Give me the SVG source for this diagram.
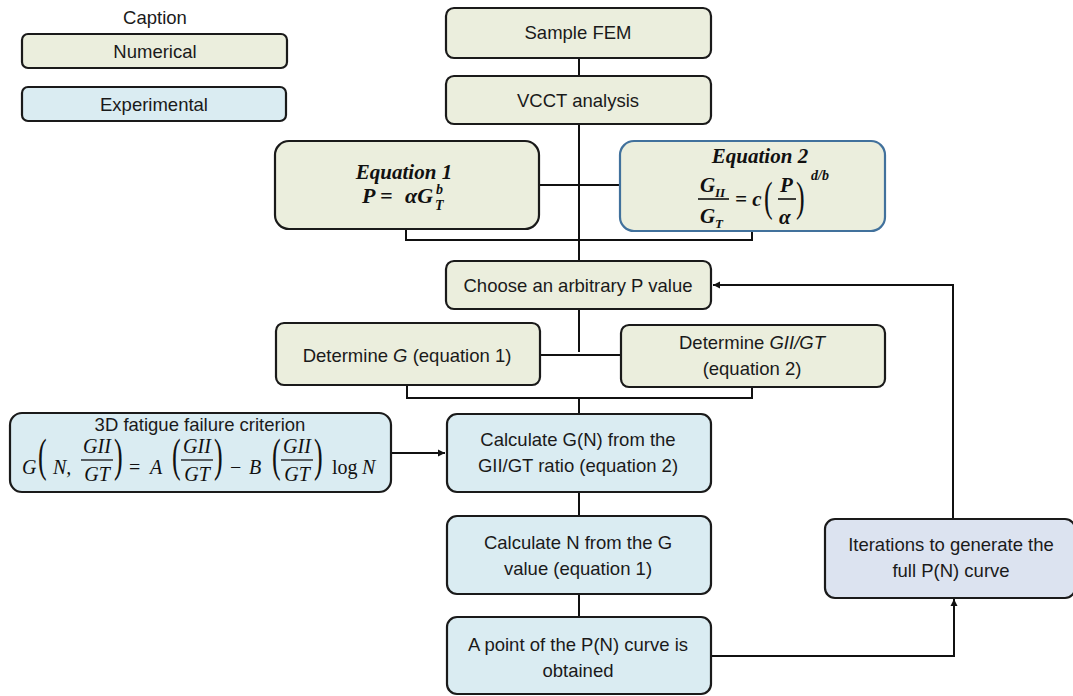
<svg xmlns="http://www.w3.org/2000/svg" width="1073" height="696" viewBox="0 0 1073 696">
<defs>
<style>
.box{stroke:#1a1a1a;stroke-width:2.2}
.num{fill:#EBEEDD}
.exp{fill:#DAECF2}
.itr{fill:#DCE3F0}
.t{font-family:"Liberation Sans",Arial,sans-serif;font-size:18.5px;fill:#1a1a1a;text-anchor:middle}
.m{font-family:"Liberation Serif","Times New Roman",serif;font-style:italic;fill:#111}
.mb{font-family:"Liberation Serif","Times New Roman",serif;font-style:italic;font-weight:bold;fill:#111}
.p{font-family:"Liberation Serif","Times New Roman",serif;font-style:normal;font-weight:normal;font-size:26px;fill:#111}
.c{fill:none;stroke:#111;stroke-width:2}
</style>
<marker id="ah" markerWidth="8" markerHeight="8" refX="7" refY="4" orient="auto" markerUnits="userSpaceOnUse">
<path d="M0,0.5 L7,4 L0,7.5 Z" fill="#111"/>
</marker>
</defs>
<rect width="1073" height="696" fill="#fff"/>

<g id="connectors">
<path class="c" d="M579,58 V76 M579,124 V240 M539,185 H620"/>
<path class="c" d="M406,229 V240 H752 V231 M579,240 V261"/>
<path class="c" d="M579,309 V352 M540,355 H621"/>
<path class="c" d="M407,385 V398 H752 V387 M579,398 V414"/>
<path class="c" d="M391,453 H445" marker-end="url(#ah)"/>
<path class="c" d="M579,492 V516 M579,594 V617"/>
<path class="c" d="M711,656 H954 V599" marker-end="url(#ah)"/>
<path class="c" d="M953,519 V285 H713" marker-end="url(#ah)"/>
</g>

<g id="caption">
<text class="t" x="155" y="24">Caption</text>
</g>
<g id="legend-numerical">
<rect class="box num" x="22" y="34" width="265" height="34" rx="6"/>
<text class="t" x="155" y="58">Numerical</text>
</g>
<g id="legend-experimental">
<rect class="box exp" x="22" y="87" width="264" height="34" rx="6"/>
<text class="t" x="154" y="111">Experimental</text>
</g>

<g id="sample-fem">
<rect class="box num" x="446" y="8" width="265" height="50" rx="8"/>
<text class="t" x="578" y="39">Sample FEM</text>
</g>
<g id="vcct">
<rect class="box num" x="446" y="76" width="265" height="48" rx="8"/>
<text class="t" x="578" y="107">VCCT analysis</text>
</g>

<g id="equation1">
<rect class="box num" x="275" y="141" width="264" height="88" rx="14"/>
<text class="mb" x="404" y="179" font-size="21" text-anchor="middle">Equation 1</text>
<text class="mb" font-size="22" y="203"><tspan x="362">P</tspan><tspan x="380">=</tspan><tspan x="405">αG</tspan></text>
<text class="mb" x="436" y="194" font-size="14">b</text>
<text class="mb" x="435" y="210" font-size="14">T</text>
</g>

<g id="equation2">
<rect x="620" y="141" width="265" height="90" rx="14" fill="#EBEEDD" stroke="#41719C" stroke-width="2.2"/>
<text class="mb" x="760" y="163" font-size="21" text-anchor="middle">Equation 2</text>
<text class="mb" x="700" y="192" font-size="21">G</text>
<text class="mb" x="715" y="197" font-size="13">II</text>
<line x1="698" y1="199" x2="729" y2="199" stroke="#111" stroke-width="1.6"/>
<text class="mb" x="700" y="223" font-size="21">G</text>
<text class="mb" x="715" y="228" font-size="13">T</text>
<text class="mb" x="735" y="206" font-size="21">= c</text>
<text class="p" transform="translate(764,211) scale(1,1.6)" font-weight="bold">(</text>
<text class="mb" x="780" y="192" font-size="21">P</text>
<line x1="778" y1="199" x2="796" y2="199" stroke="#111" stroke-width="1.6"/>
<text class="mb" x="779" y="224" font-size="21">α</text>
<text class="p" transform="translate(796,211) scale(1,1.6)" font-weight="bold">)</text>
<text class="mb" x="811" y="180" font-size="14">d/b</text>
</g>

<g id="choose-p">
<rect class="box num" x="446" y="261" width="265" height="48" rx="8"/>
<text class="t" x="578" y="292">Choose an arbitrary P value</text>
</g>

<g id="determine-g">
<rect class="box num" x="276" y="323" width="264" height="62" rx="8"/>
<text class="t" x="407" y="362">Determine <tspan font-style="italic">G</tspan> (equation 1)</text>
</g>
<g id="determine-gii">
<rect class="box num" x="621" y="325" width="264" height="62" rx="8"/>
<text class="t" x="752" y="349">Determine <tspan font-style="italic">GII/GT</tspan></text>
<text class="t" x="752" y="375">(equation 2)</text>
</g>

<g id="fatigue-criterion">
<rect class="box exp" x="10" y="413" width="381" height="79" rx="12"/>
<text class="t" x="200" y="431">3D fatigue failure criterion</text>
<g class="m" font-size="20">
<text x="22" y="474">G</text>
<text class="p" transform="translate(38,471) scale(1,1.75)">(</text>
<text x="53" y="474">N,</text>
<text x="97" y="453" text-anchor="middle">GII</text>
<line x1="81" y1="460" x2="113" y2="460" stroke="#111" stroke-width="1.3"/>
<text x="97" y="481" text-anchor="middle">GT</text>
<text class="p" transform="translate(114,471) scale(1,1.75)">)</text>
<text x="129" y="474" font-style="normal">=</text>
<text x="150" y="474">A</text>
<text class="p" transform="translate(172,471) scale(1,1.75)">(</text>
<text x="197" y="453" text-anchor="middle">GII</text>
<line x1="181" y1="460" x2="213" y2="460" stroke="#111" stroke-width="1.3"/>
<text x="197" y="481" text-anchor="middle">GT</text>
<text class="p" transform="translate(214,471) scale(1,1.75)">)</text>
<text x="230" y="474" font-style="normal">−</text>
<text x="249" y="474">B</text>
<text class="p" transform="translate(272,471) scale(1,1.75)">(</text>
<text x="297" y="453" text-anchor="middle">GII</text>
<line x1="281" y1="460" x2="313" y2="460" stroke="#111" stroke-width="1.3"/>
<text x="297" y="481" text-anchor="middle">GT</text>
<text class="p" transform="translate(314,471) scale(1,1.75)">)</text>
<text x="332" y="474" font-style="normal">log</text>
<text x="362" y="474">N</text>
</g>
</g>

<g id="calc-gn">
<rect class="box exp" x="447" y="414" width="264" height="78" rx="10"/>
<text class="t" x="578" y="446">Calculate G(N) from the</text>
<text class="t" x="578" y="472">GII/GT ratio (equation 2)</text>
</g>
<g id="calc-n">
<rect class="box exp" x="447" y="516" width="264" height="78" rx="10"/>
<text class="t" x="578" y="549">Calculate N from the G</text>
<text class="t" x="578" y="575">value (equation 1)</text>
</g>
<g id="point">
<rect class="box exp" x="447" y="617" width="264" height="77" rx="10"/>
<text class="t" x="578" y="651">A point of the P(N) curve is</text>
<text class="t" x="578" y="677">obtained</text>
</g>
<g id="iterations">
<rect class="box itr" x="825" y="519" width="250" height="79" rx="10"/>
<text class="t" x="951" y="551">Iterations to generate the</text>
<text class="t" x="951" y="577">full P(N) curve</text>
</g>
</svg>
